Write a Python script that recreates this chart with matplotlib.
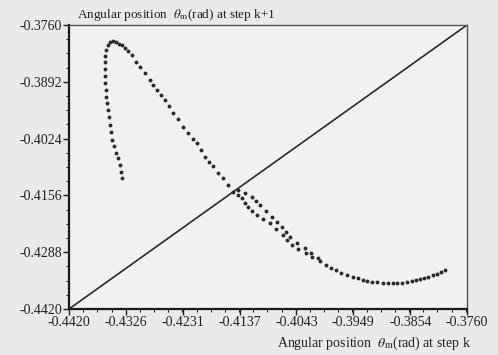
import matplotlib
matplotlib.use("Agg")
import matplotlib.pyplot as plt
from matplotlib.ticker import FixedLocator, AutoMinorLocator

plt.rcParams['font.family'] = ['Liberation Serif', 'DejaVu Serif']
plt.rcParams['mathtext.fontset'] = 'stix'
plt.rcParams['axes.unicode_minus'] = False

# ---- data: angular position at step k (x) and step k+1 (y) ----
# rising branch and first descent
branch_k = [-0.43321, -0.43338, -0.43354, -0.43387, -0.43421, -0.43454, -0.43487, -0.43504,
            -0.43520, -0.43537, -0.43553, -0.43570, -0.43586, -0.43586, -0.43603, -0.43603,
            -0.43603, -0.43603, -0.43603, -0.43586, -0.43553, -0.43520, -0.43470, -0.43421,
            -0.43371, -0.43321, -0.43271, -0.43222, -0.43155, -0.43089, -0.43023, -0.42940,
            -0.42857, -0.42807, -0.42741, -0.42674, -0.42608, -0.42542, -0.42475, -0.42392,
            -0.42310, -0.42227, -0.42144, -0.42077, -0.42011, -0.41945, -0.41878, -0.41812,
            -0.41729, -0.41646, -0.41563]
branch_k1 = [-0.41156, -0.41016, -0.40853, -0.40691, -0.40575, -0.40412, -0.40272, -0.40087,
             -0.39924, -0.39738, -0.39575, -0.39413, -0.39273, -0.39111, -0.38948, -0.38785,
             -0.38623, -0.38460, -0.38320, -0.38181, -0.38065, -0.37995, -0.37972, -0.37995,
             -0.38042, -0.38065, -0.38135, -0.38204, -0.38297, -0.38460, -0.38576, -0.38715,
             -0.38878, -0.38994, -0.39111, -0.39227, -0.39343, -0.39482, -0.39645, -0.39784,
             -0.39970, -0.40110, -0.40249, -0.40342, -0.40505, -0.40668, -0.40784, -0.40877,
             -0.41039, -0.41156, -0.41318]
# upper track after crossing the diagonal
track1_k = [-0.41398, -0.41281, -0.41165, -0.41099, -0.41033, -0.40933, -0.40834, -0.40751,
            -0.40668, -0.40601, -0.40535, -0.40419, -0.40286, -0.40187, -0.40071]
track1_k1 = [-0.41434, -0.41504, -0.41597, -0.41690, -0.41783, -0.41922, -0.42062, -0.42178,
             -0.42294, -0.42411, -0.42527, -0.42666, -0.42782, -0.42899, -0.43015]
# lower track after crossing the diagonal
track2_k = [-0.41480, -0.41398, -0.41331, -0.41281, -0.41232, -0.41165, -0.41082, -0.40983,
            -0.40867, -0.40767, -0.40651, -0.40585, -0.40502, -0.40403, -0.40270, -0.40170]
track2_k1 = [-0.41481, -0.41551, -0.41620, -0.41737, -0.41830, -0.41922, -0.42015, -0.42108,
             -0.42201, -0.42341, -0.42480, -0.42596, -0.42713, -0.42806, -0.42899, -0.42991]
# tail near the minimum
tail_k = [-0.40038, -0.39938, -0.39855, -0.39772, -0.39689, -0.39590, -0.39490, -0.39408,
          -0.39325, -0.39258, -0.39175, -0.39092, -0.38993, -0.38910, -0.38827, -0.38761,
          -0.38678, -0.38595, -0.38512, -0.38446, -0.38379, -0.38313, -0.38247, -0.38164,
          -0.38097, -0.38031, -0.37965]
tail_k1 = [-0.43084, -0.43177, -0.43247, -0.43294, -0.43363, -0.43410, -0.43456, -0.43480,
           -0.43526, -0.43549, -0.43572, -0.43572, -0.43596, -0.43596, -0.43596, -0.43596,
           -0.43596, -0.43572, -0.43549, -0.43526, -0.43503, -0.43480, -0.43456, -0.43410,
           -0.43387, -0.43340, -0.43294]

x_ticks = [-0.4420, -0.4326, -0.4231, -0.4137, -0.4043, -0.3949, -0.3854, -0.3760]
x_tick_labels = ['-0.4420', '-0.4326', '-0.4231', '-0.4137', '-0.4043', '-0.3949', '-0.3854', '-0.3760']
y_ticks = [-0.4420, -0.4288, -0.4156, -0.4024, -0.3892, -0.3760]
y_tick_labels = ['-0.4420', '-0.4288', '-0.4156', '-0.4024', '-0.3892', '-0.3760']
diag = [-0.4420, -0.3760]

fig = plt.figure(figsize=(4.98, 3.55), dpi=100, facecolor='#eaeae8')
ax = fig.add_axes([69/498, 1-309/355, 398/498, 284/355], facecolor='#f1f1ef')

ax.plot(diag, diag, color='#2a2a2a', lw=1.2)
pt = dict(ls='none', marker='o', ms=2.8, color='#2a2a2a', mec='none')
ax.plot(branch_k, branch_k1, **pt)
ax.plot(track1_k, track1_k1, **pt)
ax.plot(track2_k, track2_k1, **pt)
ax.plot(tail_k, tail_k1, **pt)

ax.set_xlim(-0.4420, -0.3760)
ax.set_ylim(-0.4420, -0.3760)
ax.xaxis.set_major_locator(FixedLocator(x_ticks))
ax.set_xticklabels(x_tick_labels)
ax.yaxis.set_major_locator(FixedLocator(y_ticks))
ax.set_yticklabels(y_tick_labels)
ax.xaxis.set_minor_locator(AutoMinorLocator(4))
ax.yaxis.set_minor_locator(AutoMinorLocator(4))
ax.tick_params(which='major', direction='out', length=4, width=1.0, labelsize=10,
               pad=1, colors='#222222')
ax.tick_params(which='minor', direction='out', length=2.5, width=0.8, colors='#222222')

for s in ['left', 'bottom']:
    ax.spines[s].set_linewidth(1.6)
    ax.spines[s].set_color('#1a1a1a')
for s in ['top', 'right']:
    ax.spines[s].set_linewidth(1.0)
    ax.spines[s].set_color('#555555')

ax.text(0.02, 1.008, r'Angular position  $\theta_{\rm m}$(rad) at step k+1',
        transform=ax.transAxes, ha='left', va='bottom', fontsize=9.5, color='#222222')
ax.text(1.01, -0.09, r'Angular position  $\theta_{\rm m}$(rad) at step k',
        transform=ax.transAxes, ha='right', va='top', fontsize=10, color='#222222')

fig.savefig('out.png', dpi=100, facecolor=fig.get_facecolor())
